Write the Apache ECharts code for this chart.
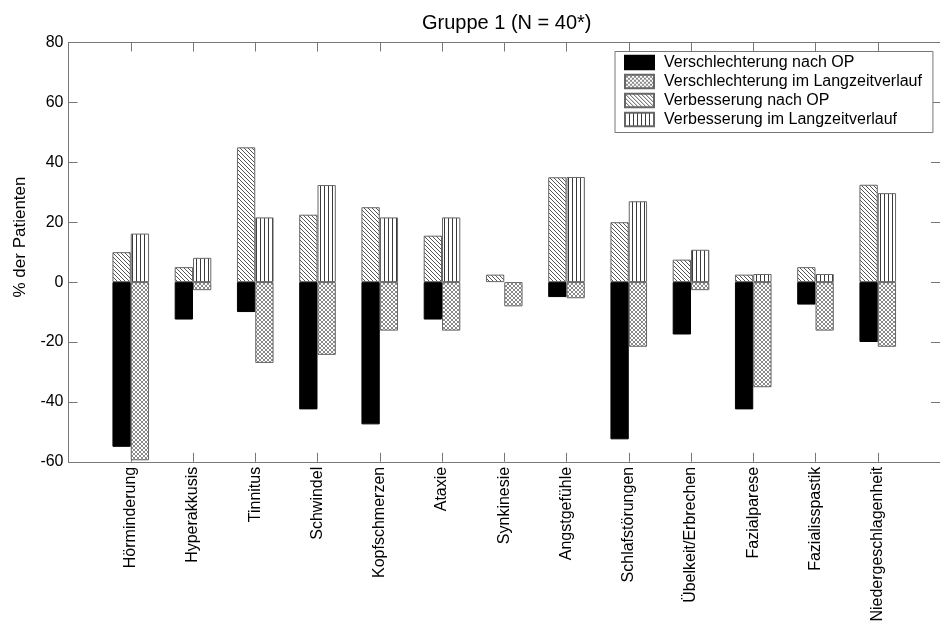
<!DOCTYPE html>
<html><head><meta charset="utf-8">
<script src="https://cdn.jsdelivr.net/npm/echarts@6/dist/echarts.min.js"></script>
<style>html,body{margin:0;padding:0;background:#fff}#c{width:940px;height:626px}</style>
</head><body><div id="c"></div>
<script>
const categories = ['Hörminderung','Hyperakkusis','Tinnitus','Schwindel','Kopfschmerzen','Ataxie','Synkinesie','Angstgefühle','Schlafstörungen','Übelkeit/Erbrechen','Fazialparese','Fazialisspastik','Niedergeschlagenheit'];
const verschlechterungOP = [-55, -12.5, -10, -42.5, -47.5, -12.5, null, -5, -52.5, -17.5, -42.5, -7.5, -20];
const verschlechterungLZ = [-59.5, -2.7, -27, -24.3, -16.2, -16.2, -8.1, -5.4, -21.6, -2.7, -35.1, -16.2, -21.6];
const verbesserungOP = [10, 5, 45, 22.5, 25, 15.5, 2.5, 35, 20, 7.5, 2.5, 5, 32.5];
const verbesserungLZ = [16.2, 8.1, 21.6, 32.4, 21.6, 21.6, null, 35.1, 27, 10.8, 2.7, 2.7, 29.7];
const seriesNames = ['Verschlechterung nach OP','Verschlechterung im Langzeitverlauf','Verbesserung nach OP','Verbesserung im Langzeitverlauf'];
const yTicks = {min: -60, max: 80, interval: 20};
const titleText = 'Gruppe 1 (N = 40*)';
const yName = '% der Patienten';

const FONT = "'Liberation Sans', Arial, sans-serif";

function makePattern(type){
  const c = document.createElement('canvas');
  c.width = 4; c.height = 4;
  const g = c.getContext('2d');
  g.fillStyle = '#fff'; g.fillRect(0,0,4,4);
  if (type === 'cross') {
    g.fillStyle = '#8a8a8a';
    for (let i=0;i<4;i++){ g.fillRect(i,i,1,1); g.fillRect(3-i,i,1,1); }
  } else if (type === 'diag') {
    g.fillStyle = '#555';
    for (let i=0;i<4;i++){ g.fillRect(i,i,1,1); }
  } else if (type === 'vert') {
    g.fillStyle = '#3a3a3a';
    g.fillRect(0,0,1,4);
  }
  return {image: c, repeat: 'repeat'};
}

const toData = arr => arr.map((v,i) => [i+1, v]);

const chart = echarts.init(document.getElementById('c'), null, {renderer:'canvas'});
const axisColor = '#777';
function xAx(pos, showLabel){
  return {
    type:'value', position: pos, min:0, max:14, interval:1,
    axisLine:{show:true, onZero:false, lineStyle:{color:axisColor, width:1}},
    axisTick:{show:true, inside:true, length:9, lineStyle:{color:axisColor}},
    splitLine:{show:false},
    axisLabel:{show:showLabel, rotate:90, margin:5, fontSize:16, color:'#000', fontFamily:FONT,
      formatter: v => categories[v-1] || ''}
  };
}
function yAx(pos, showLabel){
  return {
    type:'value', position: pos, min:yTicks.min, max:yTicks.max, interval:yTicks.interval,
    axisLine:{show:true, onZero:false, lineStyle:{color:axisColor, width:1}},
    axisTick:{show:true, inside:true, length:9, lineStyle:{color:axisColor}},
    splitLine:{show:false},
    axisLabel:{show:showLabel, margin:5, fontSize:16, color:'#000', fontFamily:FONT}
  };
}
const common = {type:'bar', xAxisIndex:0, yAxisIndex:0, barWidth:18.3, barGap:'0%'};
chart.setOption({
  animation:false,
  backgroundColor:'#fff',
  grid:{left:68.5, top:42.5, width:879.2, height:419.3, containLabel:false},
  xAxis:[xAx('bottom', true), xAx('top', false)],
  yAxis:[yAx('left', true), yAx('right', false)],
  legend:{
    orient:'vertical', left:615, top:51.5, padding:[3,11,5,9],
    itemWidth:29, itemHeight:13.5, itemGap:3, icon:'rect', selectedMode:false,
    backgroundColor:'#fff', borderColor:axisColor, borderWidth:1, borderRadius:0,
    textStyle:{fontSize:16, color:'#000', fontFamily:FONT, lineHeight:16, padding:[0,0,0,5]},
    data: seriesNames
  },
  graphic:[
    {type:'text', x:506.7, y:23, style:{text:titleText, font:'20px '+FONT, fill:'#000', align:'center', verticalAlign:'middle'}},
    {type:'text', x:20, y:237, rotation:Math.PI/2, style:{text:yName, font:'17px '+FONT, fill:'#000', align:'center', verticalAlign:'middle'}}
  ],
  series:[
    Object.assign({}, common, {name:seriesNames[0], stack:'op', data:toData(verschlechterungOP),
      itemStyle:{color:'#000', borderColor:'#000', borderWidth:1}}),
    Object.assign({}, common, {name:seriesNames[1], stack:'lz', data:toData(verschlechterungLZ),
      itemStyle:{color:makePattern('cross'), borderColor:'#666', borderWidth:1}}),
    Object.assign({}, common, {name:seriesNames[2], stack:'op', data:toData(verbesserungOP),
      itemStyle:{color:makePattern('diag'), borderColor:'#666', borderWidth:1}}),
    Object.assign({}, common, {name:seriesNames[3], stack:'lz', data:toData(verbesserungLZ),
      itemStyle:{color:makePattern('vert'), borderColor:'#666', borderWidth:1}})
  ]
});
</script></body></html>
